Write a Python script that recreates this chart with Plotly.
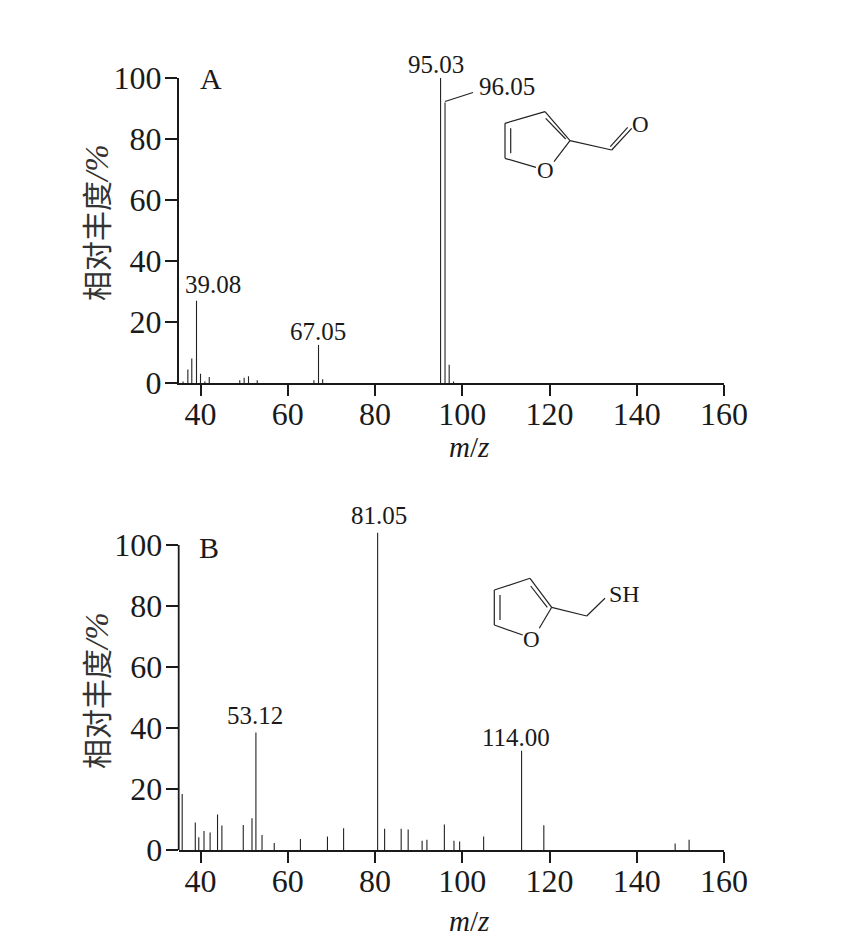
import plotly.graph_objects as go

mz_a = [36, 37.1, 38, 39.08, 40, 41, 42, 49, 50, 51, 53, 66, 67.05, 68, 95.03, 96.05, 97, 98]
abund_a = [0.5, 4.4, 8, 27, 3, 0.5, 2, 0.9, 1.7, 2.2, 0.9, 0.9, 12.5, 1.2, 100, 92, 6, 0.5]
mz_b = [35.8, 38.8, 39.6, 40.8, 42.2, 43.9, 44.9, 49.8, 51.8, 52.7, 54.1, 56.9, 62.9, 69.1, 72.8,
        80.6, 82.2, 86, 87.6, 90.8, 91.9, 95.9, 98.1, 99.4, 104.9, 113.6, 118.7, 148.8, 152]
abund_b = [18.4, 9, 4.2, 6.2, 5.7, 11.6, 8, 8.2, 10.4, 38.5, 4.9, 2.3, 3.6, 4.4, 7.1,
           104, 7, 7, 6.7, 3, 3.4, 8.4, 3, 2.8, 4.4, 32.5, 8.1, 2.1, 3.4]
x_ticks = [40, 60, 80, 100, 120, 140, 160]
y_ticks = [0, 20, 40, 60, 80, 100]
labels_a = [("39.08", 39.08, 27), ("67.05", 67.05, 12.5), ("95.03", 95.03, 100)]
labels_b = [("53.12", 52.7, 38.5), ("81.05", 80.6, 104), ("114.00", 113.6, 32.5)]

# pixel nudges for the peak labels (xshift, yshift)
label_nudge = {"39.08": (16, 1), "67.05": (-1, -2), "95.03": (-5, -2),
               "53.12": (-1, 2), "81.05": (1, 2), "114.00": (-6, -2)}

W, H = 861, 946
PAGE = 8  # the page adds an 8 px body margin
SERIF = "Liberation Serif, Noto Sans CJK SC"
INK = "#1a1a1a"


def px(x):
    return (x - PAGE) / W


def py(y):
    return 1 - (y - PAGE) / H


def stems(xs, ys):
    sx, sy = [], []
    for a, b in zip(xs, ys):
        sx += [a, a, None]
        sy += [0, b, None]
    return sx, sy


fig = go.Figure()
ax, ay = stems(mz_a, abund_a)
bx, by = stems(mz_b, abund_b)
fig.add_trace(go.Scatter(x=ax, y=ay, mode="lines", line=dict(color="#222", width=1.1),
                         cliponaxis=False, xaxis="x", yaxis="y", showlegend=False, connectgaps=False))
fig.add_trace(go.Scatter(x=bx, y=by, mode="lines", line=dict(color="#222", width=1.1),
                         cliponaxis=False, xaxis="x2", yaxis="y2", showlegend=False, connectgaps=False))

x_common = dict(range=[35, 160], tickvals=x_ticks, ticks="outside", ticklen=11, tickwidth=1.6,
                tickcolor=INK, showline=True, linecolor=INK, linewidth=1.8, showgrid=False,
                zeroline=False, tickfont=dict(family=SERIF, size=32, color=INK), tickangle=0,
                ticklabelstandoff=-9, automargin=False)
y_common = dict(tickvals=y_ticks, ticks="outside", ticklen=12, tickwidth=1.6,
                tickcolor=INK, linecolor=INK, linewidth=1.8, showgrid=False,
                zeroline=False, tickfont=dict(family=SERIF, size=32, color=INK), automargin=False,
                ticklabelstandoff=-3)

x_dom = [px(178.7), px(724)]
fig.update_layout(
    width=W, height=H, autosize=False, margin=dict(l=0, r=0, t=0, b=0),
    paper_bgcolor="white", plot_bgcolor="white", showlegend=False,
    font=dict(family=SERIF, color=INK),
    xaxis=dict(domain=x_dom, anchor="y", **x_common),
    yaxis=dict(domain=[py(383), py(78)], anchor="x", range=[0, 100], showline=True, **y_common),
    xaxis2=dict(domain=x_dom, anchor="y2", **x_common),
    # panel B: the base peak rises above the 100 tick, the axis line stops at it
    yaxis2=dict(domain=[py(850), py(532)], anchor="x2", range=[0, 104.26], showline=False, **y_common),
)
fig.add_shape(type="line", xref="x2 domain", yref="y2", x0=0, x1=0, y0=0, y1=100,
              line=dict(color=INK, width=1.8))


def peak_label(text, x, y, xr, yr):
    dx, dy = label_nudge[text]
    fig.add_annotation(text=text, x=x, y=y, xref=xr, yref=yr, showarrow=False, yanchor="bottom",
                       xshift=dx, yshift=dy, font=dict(family=SERIF, size=25, color=INK))


for t, x, y in labels_a:
    peak_label(t, x, y, "x", "y")
for t, x, y in labels_b:
    peak_label(t, x, y, "x2", "y2")
fig.add_annotation(text="96.05", x=px(477), y=py(87), xref="paper", yref="paper", xanchor="left",
                   yanchor="middle", showarrow=False, font=dict(family=SERIF, size=25, color=INK))


def txt(text, x, y, size, angle=0, color=INK):
    fig.add_annotation(text=text, x=px(x), y=py(y), xref="paper", yref="paper", showarrow=False,
                       xanchor="center", yanchor="middle", textangle=angle,
                       font=dict(family=SERIF, size=size, color=color))


def seg(x0, y0, x1, y1, w=1.2):
    fig.add_shape(type="line", xref="paper", yref="paper", x0=px(x0), y0=py(y0), x1=px(x1), y1=py(y1),
                  line=dict(color="#222", width=w))


Y_TITLE = '相对丰度<span style="font-size:33px"><i>/%</i></span>'
txt("A", 211, 79, 30)
txt("B", 209, 547, 30)
txt(Y_TITLE, 97, 223, 30, -90, "#333")
txt(Y_TITLE, 97, 691, 30, -90, "#333")
txt("<i>m</i>/<i>z</i>", 469, 447, 29)
txt("<i>m</i>/<i>z</i>", 469, 921, 29)

# leader line to 96.05
seg(445, 101.5, 473, 92.5)

# furfural structure
txt("O", 545.7, 170.7, 23)
txt("O", 640.7, 124, 23)
for s in [(570, 140.7, 545, 111.7), (545, 111.7, 505, 123.3), (505, 123.3, 505, 158.3),
          (505, 158.3, 536, 167.3), (570, 140.7, 554, 161.7), (510.7, 128.3, 510.7, 153.3),
          (545.7, 118.3, 565.7, 139), (570, 140.7, 611.7, 150), (611.7, 150, 631.7, 128.3),
          (610.3, 146.7, 627.7, 127.3)]:
    seg(*s)

# furfuryl mercaptan structure
txt("O", 531.7, 639, 23)
txt("SH", 624.3, 594, 24)
for s in [(551.7, 607.3, 530, 578.3), (530, 578.3, 494.3, 590), (494.3, 590, 494.3, 625),
          (494.3, 625, 522.7, 635), (551.7, 607.3, 539.3, 628.3), (500, 595, 500, 620),
          (530.7, 586, 547.3, 607.3), (551.7, 607.3, 586.7, 616), (586.7, 616, 605, 598.3)]:
    seg(*s)

fig.write_html("out.html")
